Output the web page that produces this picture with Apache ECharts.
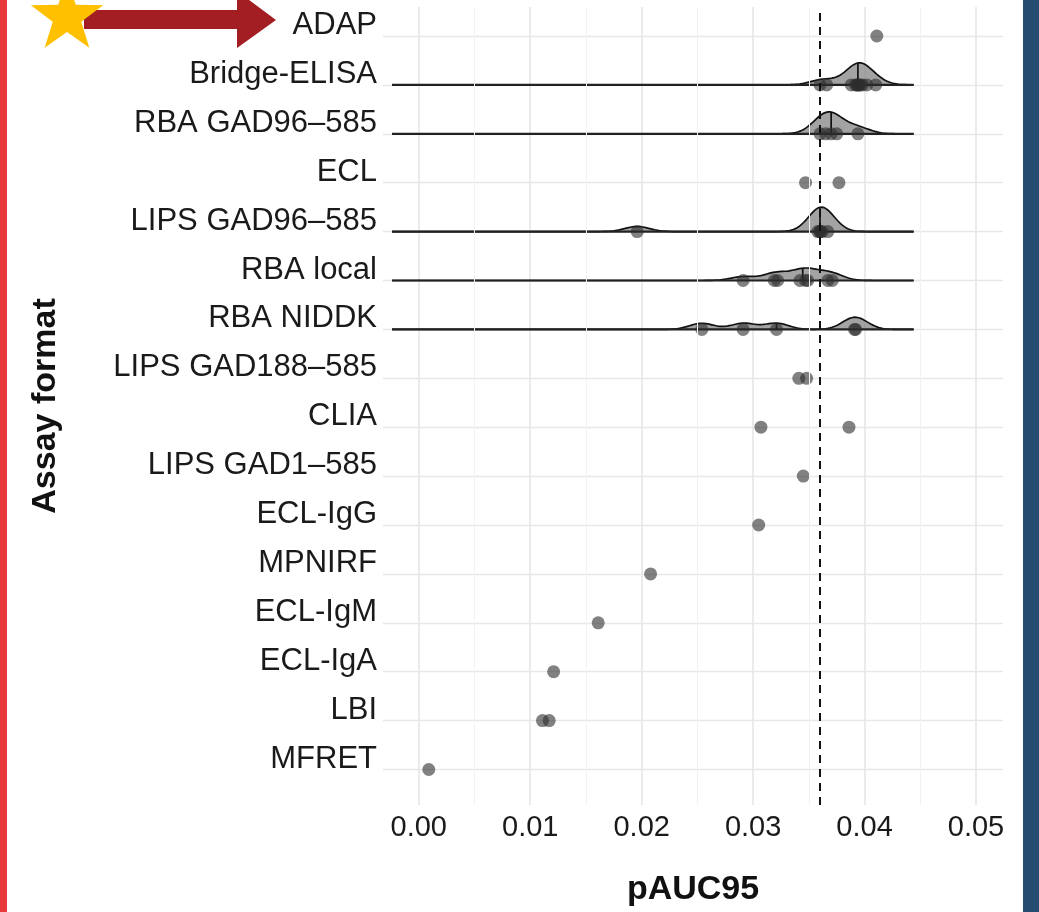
<!DOCTYPE html>
<html>
<head>
<meta charset="utf-8">
<script src="https://cdn.jsdelivr.net/npm/echarts@6/dist/echarts.min.js"></script>
<style>
html,body{margin:0;padding:0;background:#fff;}
#main{width:1039px;height:912px;}
</style>
</head>
<body>
<div id="main"></div>
<script>
// assay formats, top to bottom
var assays = ['ADAP', 'Bridge-ELISA', 'RBA GAD96–585', 'ECL', 'LIPS GAD96–585', 'RBA local', 'RBA NIDDK',
  'LIPS GAD188–585', 'CLIA', 'LIPS GAD1–585', 'ECL-IgG', 'MPNIRF', 'ECL-IgM', 'ECL-IgA', 'LBI', 'MFRET'];

// pAUC95 per lab
var vADAP = [0.0411];
var vBridge = [0.0360, 0.0366, 0.0388, 0.0392, 0.0393, 0.0394, 0.0395, 0.0396, 0.0398, 0.0402, 0.0410];
var vRba96 = [0.0360, 0.0365, 0.0370, 0.0375, 0.0394];
var vEcl = [0.0347, 0.0377];
var vLips96 = [0.0196, 0.0358, 0.0360, 0.0360, 0.0362, 0.0367];
var vRbaLocal = [0.0291, 0.0319, 0.0322, 0.0342, 0.0347, 0.0349, 0.0367, 0.0371];
var vNiddk = [0.0254, 0.0291, 0.0321, 0.0391, 0.0392];
var vLips188 = [0.0341, 0.0348];
var vClia = [0.0307, 0.0386];
var vLips1 = [0.0345];
var vIgG = [0.0305];
var vMpnirf = [0.0208];
var vIgM = [0.0161];
var vIgA = [0.0121];
var vLbi = [0.0111, 0.0117];
var vMfret = [0.0009];
var threshold = 0.036;

var xTicks = [0, 0.01, 0.02, 0.03, 0.04, 0.05];
var xMinor = [0.005, 0.015, 0.025, 0.035, 0.045];

var groups = [vADAP, vBridge, vRba96, vEcl, vLips96, vRbaLocal, vNiddk, vLips188, vClia, vLips1,
  vIgG, vMpnirf, vIgM, vIgA, vLbi, vMfret];

var nRow = assays.length;
var bw = 0.0011;       // joint bandwidth
var ridgeScale = 0.5;  // tallest ridge, in rows

var allVals = [].concat.apply([], groups);
var lo = Math.min.apply(null, allVals) - 3 * bw;
var hi = Math.max.apply(null, allVals) + 3 * bw;
var nGrid = 256;

function kde(vals, x) {
  var s = 0;
  for (var i = 0; i < vals.length; i++) {
    var u = (x - vals[i]) / bw;
    s += Math.exp(-0.5 * u * u);
  }
  return s / (vals.length * bw * Math.sqrt(2 * Math.PI));
}
function median(vals) {
  var a = vals.slice().sort(function (p, q) { return p - q; });
  var m = a.length >> 1;
  return a.length % 2 ? a[m] : (a[m - 1] + a[m]) / 2;
}

var ridgeData = [];
var dmax = 0;
groups.forEach(function (g, i) {
  if (g.length < 3) return;
  var xs = [], ds = [];
  for (var k = 0; k <= nGrid; k++) {
    var x = lo + (hi - lo) * k / nGrid;
    var d = kde(g, x);
    xs.push(x); ds.push(d);
    if (d > dmax) dmax = d;
  }
  ridgeData.push({ row: nRow - 1 - i, xs: xs, ds: ds, med: median(g), dmed: kde(g, median(g)) });
});

var points = [];
groups.forEach(function (g, i) {
  g.forEach(function (v) { points.push([v, nRow - 1 - i]); });
});

var chart = echarts.init(document.getElementById('main'));

var option = {
  backgroundColor: '#ffffff',
  animation: false,
  grid: { left: 383, right: 36, top: 7, bottom: 107, containLabel: false, outerBoundsMode: 'none' },
  xAxis: {
    type: 'value',
    min: -0.00321,
    max: 0.05242,
    name: 'pAUC95',
    nameLocation: 'middle',
    nameGap: 68,
    nameTextStyle: { fontFamily: 'Liberation Sans', fontWeight: 'bold', fontSize: 34, color: '#111' },
    axisLine: { show: false },
    axisTick: { show: false, customValues: xTicks },
    axisLabel: {
      customValues: xTicks, margin: 8,
      fontFamily: 'Liberation Sans', fontSize: 29, color: '#1a1a1a',
      formatter: function (v) { return v.toFixed(2); }
    },
    splitLine: { show: true, lineStyle: { color: '#e6e6e6', width: 1.6 } }
  },
  yAxis: {
    type: 'value',
    min: -0.726,
    max: 15.593,
    name: 'Assay format',
    nameLocation: 'middle',
    nameGap: 320,
    nameRotate: 90,
    nameTextStyle: { fontFamily: 'Liberation Sans', fontWeight: 'bold', fontSize: 34, color: '#111' },
    axisLine: { show: false },
    axisTick: { show: false, customValues: assays.map(function (a, i) { return i; }) },
    axisLabel: {
      customValues: assays.map(function (a, i) { return i; }),
      margin: 6,
      fontFamily: 'Liberation Sans', fontSize: 31, color: '#1a1a1a',
      verticalAlign: 'bottom', lineHeight: 21,
      formatter: function (v) { return assays[nRow - 1 - Math.round(v)]; }
    },
    splitLine: { show: true, lineStyle: { color: '#e8e8e8', width: 1.4 } }
  },
  graphic: [
    { type: 'rect', shape: { x: 0, y: 0, width: 7, height: 912 }, style: { fill: '#e83a3d' }, z: 100 },
    { type: 'rect', shape: { x: 1023, y: 0, width: 16, height: 912 }, style: { fill: '#244b70' }, z: 100 },
    {
      type: 'polygon', z: 100,
      shape: { points: [[84, 10], [237, 10], [237, -9], [276, 20], [237, 48], [237, 29], [84, 29]] },
      style: { fill: '#a21e23' }
    },
    {
      type: 'polygon', z: 101,
      shape: {
        points: (function () {
          var p = [], cx = 67, cy = 17, R = 38, r = 15;
          for (var k = 0; k < 10; k++) {
            var a = -Math.PI / 2 + k * Math.PI / 5, rr = k % 2 ? r : R;
            p.push([cx + rr * Math.cos(a), cy + rr * Math.sin(a)]);
          }
          return p;
        })()
      },
      style: { fill: '#ffc000' }
    }
  ],
  series: [
    {
      type: 'line', data: [], z: 1, silent: true,
      markLine: {
        silent: true, symbol: 'none', label: { show: false }, precision: 4,
        lineStyle: { color: '#f2f2f2', width: 1, type: 'solid' },
        data: xMinor.map(function (v) { return { xAxis: v }; })
      }
    },
    {
      type: 'custom', z: 2, silent: true,
      data: ridgeData.map(function (r) { return [r.med, r.row]; }),
      renderItem: function (params, api) {
        var r = ridgeData[params.dataIndex];
        var k = ridgeScale / dmax;
        var top = r.xs.map(function (x, j) { return api.coord([x, r.row + r.ds[j] * k]); });
        var poly = [api.coord([lo, r.row])].concat(top, [api.coord([hi, r.row])]);
        var m0 = api.coord([r.med, r.row]), m1 = api.coord([r.med, r.row + r.dmed * k]);
        return {
          type: 'group',
          children: [
            { type: 'polygon', shape: { points: poly }, style: { fill: 'rgba(140,140,140,0.8)', stroke: null } },
            { type: 'polyline', shape: { points: top }, style: { fill: null, stroke: '#111', lineWidth: 1.7 } },
            { type: 'line', shape: { x1: poly[0][0], y1: poly[0][1], x2: poly[poly.length - 1][0], y2: poly[0][1] },
              style: { stroke: '#222', lineWidth: 2.2 } },
            { type: 'line', shape: { x1: m0[0], y1: m0[1], x2: m1[0], y2: m1[1] }, style: { stroke: '#111', lineWidth: 1.7 } }
          ]
        };
      }
    },
    {
      type: 'scatter', z: 3,
      data: points,
      symbolSize: 13,
      itemStyle: { color: 'rgba(45,45,45,0.75)' },
      markLine: {
        silent: true, symbol: 'none', label: { show: false }, precision: 4,
        lineStyle: { color: '#111', width: 2, type: [8, 6] },
        data: [{ xAxis: threshold }]
      }
    }
  ]
};
chart.setOption(option);
</script>
</body>
</html>
